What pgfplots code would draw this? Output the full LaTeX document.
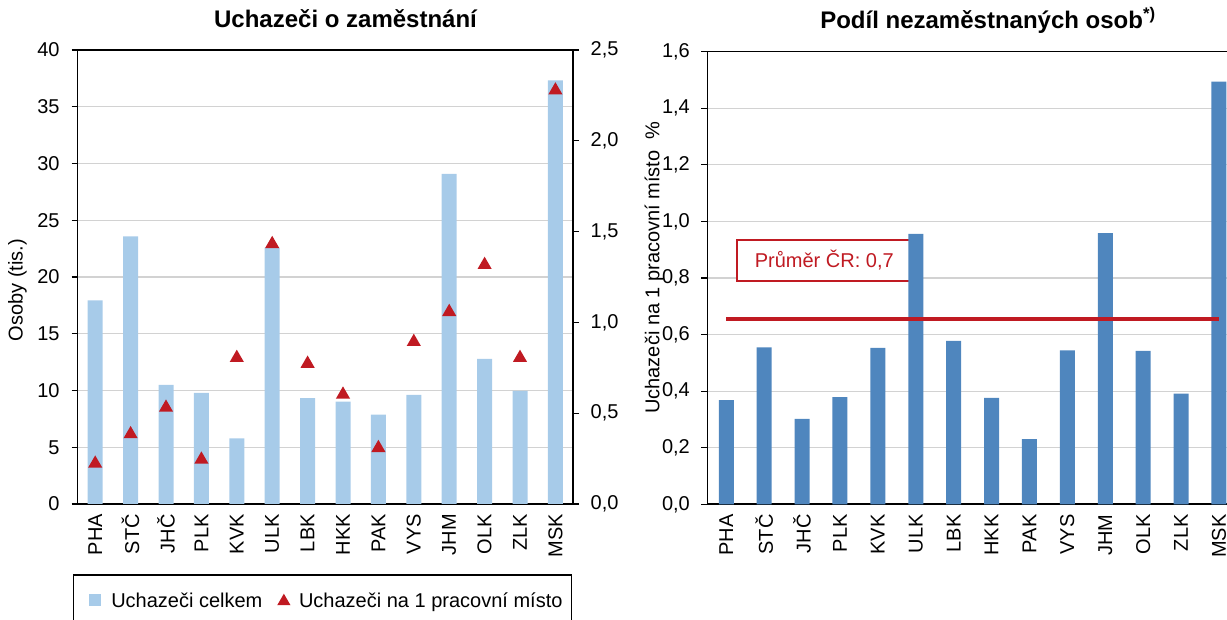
\documentclass[border=0pt]{standalone}
\usepackage{fontspec}
\setmainfont{Liberation Sans}
\usepackage{pgfplots}
\pgfplotsset{compat=1.18}
\definecolor{lightbar}{RGB}{167,203,233}
\definecolor{darkbar}{RGB}{79,134,190}
\definecolor{redc}{RGB}{192,26,34}
\definecolor{gridc}{RGB}{210,210,210}
\newcommand\fs{\fontsize{20}{24}\selectfont}
\newcommand\ft{\fontsize{24}{28}\selectfont\bfseries}
\pgfdeclareplotmark{ctri}{%
  \pgfpathmoveto{\pgfqpoint{0pt}{0.75\pgfplotmarksize}}%
  \pgfpathlineto{\pgfqpoint{-0.866\pgfplotmarksize}{-0.75\pgfplotmarksize}}%
  \pgfpathlineto{\pgfqpoint{0.866\pgfplotmarksize}{-0.75\pgfplotmarksize}}%
  \pgfpathclose\pgfusepathqfill}
\pgfplotsset{
  layers/mylayers/.define layer set={axis background,axis grid,pre main,main,axis ticks,axis lines,axis tick labels,axis descriptions,axis foreground}{},
  base/.style={
    set layers=mylayers,
    scale only axis,
    xmin=-0.5, xmax=13.5,
    xtick={0,...,13},
    xticklabels={PHA,STČ,JHČ,PLK,KVK,ULK,LBK,HKK,PAK,VYS,JHM,OLK,ZLK,MSK},
    tick align=outside,
    major tick length=6pt,
    x tick style={draw=none},
    xticklabel style={rotate=90, anchor=east, inner sep=0pt, font=\fs, xshift=-4pt},
    yticklabel style={font=\fs, inner sep=0pt},
    axis line style={line width=1.6pt, black},
    tick style={black, line width=1.2pt},
    grid style={gridc, line width=1.2pt},
    /pgf/number format/assume math mode=true,
    title style={font=\ft},
    ylabel style={font=\fs, anchor=center},
  },
  comma1/.style={/pgf/number format/use comma, /pgf/number format/fixed,
     /pgf/number format/fixed zerofill, /pgf/number format/precision=1},
}
\begin{document}
\begin{tikzpicture}[x=1pt,y=1pt]
% ---------- left chart, left axis ----------
\begin{axis}[base,
  at={(77.5pt,115pt)}, anchor=south west, width=495.6pt, height=454pt,
  ymin=0, ymax=40, ytick={0,5,10,15,20,25,30,35,40}, ytick pos=left,
  ymajorgrids,
  yticklabel style={xshift=-11.7pt},
  title={Uchazeči o zaměstnání},
  title style={at={(axis description cs:0.5408,1.0374)}, anchor=base},
  ylabel={Osoby (tis.)},
  ylabel style={at={(axis description cs:-0.1211,0.4714)}},
]
\addplot[ybar, bar width=15pt, bar shift=0pt, fill=lightbar, draw=none] coordinates {
(0,17.94) (1,23.59) (2,10.50) (3,9.79) (4,5.79) (5,22.59) (6,9.32)
(7,9.03) (8,7.88) (9,9.62) (10,29.09) (11,12.79) (12,9.97) (13,37.32)};
\end{axis}
% ---------- left chart, right axis ----------
\begin{axis}[base, comma1,
  at={(77.5pt,115pt)}, anchor=south west, width=495.6pt, height=454pt,
  hide x axis,
  axis y line*=right, tick align=outside,
  ymin=0, ymax=2.5, ytick={0,0.5,1.0,1.5,2.0,2.5},
  yticklabel style={xshift=11.4pt},
  legend columns=2,
  legend style={at={(axis description cs:0.4944,-0.2115)}, anchor=center,
    draw=black, line width=1.3pt, fill=white,
    inner xsep=9.3pt, inner ysep=17.85pt,
    /tikz/column sep=0pt,
    nodes={inner sep=0pt, text height=14.3pt, text depth=0pt, font=\fs},
    cells={anchor=west}},
]
\addlegendimage{legend image code/.code={\path (0pt,0pt) (27.4pt,0pt); \fill[lightbar] (6.7pt,-5pt) rectangle (16.7pt,5pt);}}
\addlegendentry{Uchazeči celkem}
\addplot[only marks, mark=ctri, mark size=8.2pt, color=redc,
  legend image code/.code={\path (0pt,0pt) (35.3pt,0pt); \fill[redc] (15.3pt,-4.5pt) -- (26.3pt,-4.5pt) -- (20.8pt,5pt) -- cycle;}]
coordinates {
(0,0.234) (1,0.396) (2,0.542) (3,0.256) (4,0.816) (5,1.443) (6,0.784)
(7,0.614) (8,0.320) (9,0.904) (10,1.069) (11,1.328) (12,0.816) (13,2.289)};
\addlegendentry{Uchazeči na 1 pracovní místo}
\end{axis}
% ---------- right chart ----------
\begin{axis}[base, comma1,
  at={(707.3pt,114.7pt)}, anchor=south west, width=530.6pt, height=452.6pt,
  ymin=0, ymax=1.6, ytick={0,0.2,0.4,0.6,0.8,1.0,1.2,1.4,1.6}, ytick pos=left,
  ymajorgrids,
  yticklabel style={xshift=-11.3pt},
  title={Podíl nezaměstnaných osob\textsuperscript{*)}},
  title style={at={(axis description cs:0.529,1.037)}, anchor=base},
  ylabel={Uchazeči na 1 pracovní místo\ \ \%},
  ylabel style={at={(axis description cs:-0.1005,0.523)}},
]
\node[draw=redc, line width=1.5pt, fill=white, text=redc, minimum width=174.7pt,
  minimum height=41pt, inner sep=0pt, font=\fs] at (rel axis cs:0.2205,0.5387) {Průměr ČR: 0,7};
\addplot[ybar, bar width=15pt, bar shift=0pt, fill=darkbar, draw=none] coordinates {
(0,0.368) (1,0.555) (2,0.302) (3,0.379) (4,0.553) (5,0.956) (6,0.578)
(7,0.376) (8,0.230) (9,0.544) (10,0.959) (11,0.542) (12,0.391) (13,1.494)};
\addplot[redc, line width=3.5pt] coordinates {(0,0.655) (13,0.655)};
\end{axis}
\pgfresetboundingbox
\useasboundingbox (0pt,0pt) rectangle (1227pt,619pt);
\end{tikzpicture}
\end{document}
